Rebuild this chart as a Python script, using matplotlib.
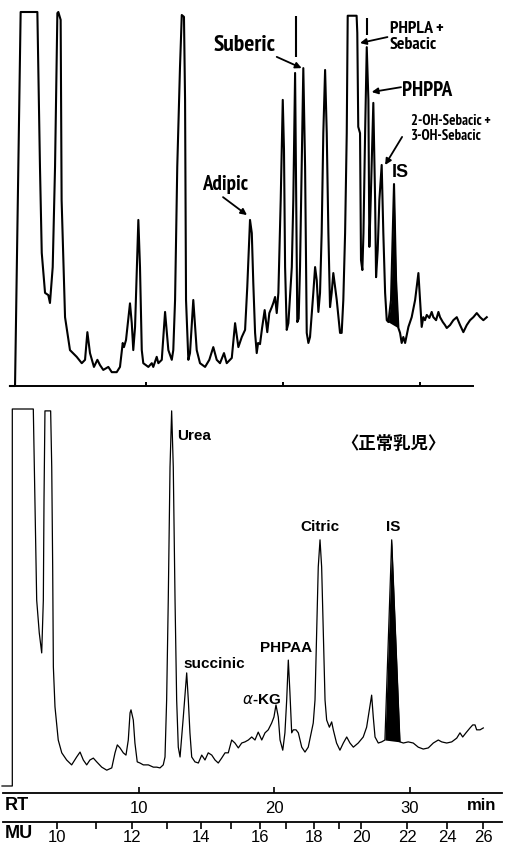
import numpy as np
import matplotlib
matplotlib.use('Agg')
from matplotlib import pyplot as plt
from matplotlib import font_manager

# ---- upper trace (patient urine), retention time [min] vs response [% of full scale]
top_rt = [0.07, 0.44, 0.85, 2.07, 2.26, 2.39, 2.63, 2.87, 2.99, 3.19,
          3.36, 3.53, 3.60, 3.77, 3.84, 4.09, 4.45, 4.94, 5.31, 5.55,
          5.72, 5.91, 6.20, 6.45, 6.64, 6.88, 7.25, 7.50, 7.86, 8.10,
          8.30, 8.39, 8.54, 8.83, 8.96, 9.07, 9.20, 9.32, 9.44, 9.56,
          9.69, 9.80, 10.17, 10.42, 10.53, 10.78, 10.90, 11.15, 11.39, 11.63,
          11.88, 11.99, 12.12, 12.28, 12.48, 12.61, 12.77, 12.85, 12.92, 13.09,
          13.21, 13.45, 13.70, 13.94, 14.31, 14.62, 14.91, 15.16, 15.40, 15.69,
          15.89, 16.26, 16.50, 16.74, 16.99, 17.23, 17.39, 17.59, 17.72, 17.83,
          17.96, 18.08, 18.18, 18.32, 18.47, 18.66, 18.85, 19.00, 19.18, 19.29,
          19.42, 19.54, 19.66, 19.83, 19.98, 20.07, 20.15, 20.27, 20.39, 20.64,
          20.75, 20.88, 21.04, 21.14, 21.24, 21.36, 21.48, 21.61, 21.73, 21.85,
          21.97, 22.21, 22.34, 22.46, 22.58, 22.70, 22.82, 22.94, 23.07, 23.19,
          23.31, 23.43, 23.55, 23.67, 23.80, 23.92, 24.16, 24.28, 24.40, 24.53,
          24.65, 24.72, 25.37, 25.42, 25.49, 25.62, 25.69, 25.79, 25.87, 25.99,
          26.11, 26.23, 26.30, 26.40, 26.59, 26.72, 26.79, 26.91, 27.03, 27.20,
          27.32, 27.45, 27.57, 27.69, 27.88, 28.10, 28.25, 28.42, 28.54, 28.66,
          28.78, 28.91, 29.15, 29.39, 29.64, 29.88, 30.00, 30.12, 30.24, 30.36,
          30.49, 30.68, 30.85, 30.97, 31.17, 31.34, 31.46, 31.66, 31.82, 31.95,
          32.19, 32.43, 32.68, 32.92, 33.16, 33.41, 33.65, 33.89, 34.14, 34.38,
          34.62, 34.87]
top_resp = [0, 0, 100, 100, 58.6, 35.6, 24.9, 24.3, 22.2, 31.8,
            58.6, 99.7, 100, 97.9, 49.7, 18.4, 9.6, 7.8, 6.1, 7.0,
            14.4, 8.8, 5.1, 7.0, 5.6, 4.3, 5.1, 3.7, 3.7, 5.1,
            11.5, 10.4, 12.3, 22.1, 16.8, 9.6, 15.8, 30.2, 44.4, 31.8,
            9.6, 6.1, 5.1, 6.1, 5.1, 7.8, 6.1, 7.0, 19.8, 9.6,
            7.0, 9.6, 23.0, 58.6, 85.3, 99.2, 98.7, 76.5, 23.0, 7.0,
            8.8, 23.0, 9.6, 6.1, 5.1, 7.0, 10.4, 7.0, 6.1, 8.8,
            6.1, 7.5, 16.8, 10.4, 13.1, 15.0, 26.5, 44.4, 40.9, 27.5,
            14.2, 8.8, 11.5, 11.2, 15.5, 20.3, 14.4, 19.5, 21.1, 22.2,
            23.8, 19.5, 24.9, 49.7, 76.5, 63.1, 31.8, 15.0, 16.8, 31.8,
            49.7, 83.7, 17.1, 18.0, 31.8, 58.6, 85.0, 58.6, 14.2, 11.5,
            13.1, 24.9, 31.8, 28.3, 19.8, 24.9, 40.9, 67.6, 84.5, 67.6,
            40.9, 21.1, 24.9, 30.2, 26.5, 23.0, 14.2, 14.2, 23.0, 40.9,
            67.6, 99.0, 99.0, 94.4, 69.3, 67.6, 33.7, 31.0, 40.9, 67.6,
            90.6, 76.5, 37.2, 49.7, 75.7, 49.7, 29.1, 36.4, 49.7, 59.1,
            40.9, 24.9, 17.6, 17.1, 23.0, 54.0, 28.3, 15.5, 14.2, 11.5,
            13.1, 11.5, 15.8, 18.4, 23.0, 30.2, 23.0, 15.8, 18.4, 17.6,
            19.0, 18.2, 19.8, 18.4, 17.6, 19.8, 18.4, 17.1, 16.3, 15.5,
            16.3, 17.6, 18.4, 16.3, 14.4, 16.3, 17.6, 18.4, 19.5, 18.4,
            17.6, 18.4]
top_is_window = (27.69, 28.42)
# pen marks of off-scale peak tops: rt, low, high
top_caps_rt = [20.95, 26.11]
top_caps_lo = [88.0, 93.9]
top_caps_hi = [98.9, 98.4]
top_peak_names = ['Adipic', 'Suberic', 'PHPLA +\nSebacic', 'PHPPA',
                  '2-OH-Sebacic +\n3-OH-Sebacic']

# ---- lower trace (normal infant)
bot_rt = [-0.11, 0.65, 0.65, 2.20, 2.32, 2.45, 2.64, 2.82, 2.94, 2.99,
          3.06, 3.48, 3.56, 3.63, 3.68, 3.80, 4.04, 4.30, 4.66, 5.03,
          5.40, 5.65, 5.89, 6.14, 6.38, 6.63, 6.88, 7.25, 7.62, 7.99,
          8.23, 8.40, 8.60, 8.84, 9.04, 9.21, 9.34, 9.41, 9.58, 9.70,
          9.87, 10.07, 10.32, 10.69, 11.06, 11.31, 11.55, 11.79, 11.92, 12.04,
          12.16, 12.29, 12.41, 12.53, 12.66, 12.78, 12.90, 13.03, 13.27, 13.52,
          13.64, 13.76, 13.89, 14.13, 14.38, 14.63, 14.87, 15.11, 15.37, 15.61,
          15.85, 16.10, 16.35, 16.59, 16.84, 17.08, 17.33, 17.58, 17.82, 18.07,
          18.32, 18.56, 18.80, 19.06, 19.30, 19.54, 19.79, 19.96, 20.11, 20.28,
          20.41, 20.61, 20.77, 20.90, 21.02, 21.14, 21.27, 21.39, 21.59, 21.76,
          22.01, 22.25, 22.49, 22.75, 22.86, 22.99, 23.11, 23.23, 23.36, 23.48,
          23.60, 23.73, 23.85, 24.05, 24.22, 24.34, 24.58, 24.83, 25.08, 25.33,
          25.57, 25.82, 26.18, 26.55, 26.80, 27.00, 27.17, 27.29, 27.42, 27.66,
          27.91, 28.15, 28.65, 29.26, 29.51, 29.87, 30.24, 30.61, 30.98, 31.35,
          31.72, 32.09, 32.34, 32.71, 33.08, 33.45, 33.69, 33.89, 34.13, 34.43,
          34.63, 34.80, 34.92, 35.17, 35.41]
bot_resp = [0, 0, 100, 100, 75.9, 49.3, 40.6, 35.3, 49.3, 75.9,
            99.5, 99.5, 84.6, 58.1, 31.6, 21.0, 12.2, 8.8, 6.9, 5.6,
            7.7, 9.0, 6.9, 5.6, 6.9, 7.4, 6.4, 5.0, 4.2, 4.8,
            8.8, 10.9, 10.1, 8.8, 8.2, 12.2, 19.4, 20.2, 17.5, 11.4,
            6.4, 6.1, 5.6, 5.6, 5.0, 5.0, 4.8, 5.6, 7.7, 22.8,
            49.3, 84.6, 99.5, 84.6, 49.3, 22.8, 10.3, 7.7, 18.3, 30.0,
            22.8, 14.1, 7.7, 6.4, 6.1, 8.2, 6.9, 8.8, 8.2, 6.9,
            6.1, 7.4, 8.8, 8.8, 12.2, 11.4, 10.1, 11.4, 11.7, 12.2,
            13.0, 12.2, 14.3, 12.2, 14.1, 14.9, 16.7, 18.3, 21.5, 18.3,
            12.2, 9.5, 14.1, 22.8, 33.4, 24.7, 14.1, 14.9, 14.9, 14.1,
            10.3, 9.0, 10.3, 14.9, 16.7, 22.8, 40.6, 58.1, 65.3, 58.1,
            40.6, 22.8, 17.5, 15.6, 17.0, 14.9, 11.4, 9.5, 11.4, 13.0,
            11.4, 10.3, 11.4, 13.0, 15.6, 20.2, 24.1, 18.3, 13.0, 11.4,
            11.7, 12.2, 65.3, 11.7, 11.4, 11.7, 11.4, 10.3, 9.8, 10.1,
            11.4, 12.2, 11.7, 11.4, 11.7, 12.7, 14.1, 13.0, 14.1, 15.4,
            16.2, 16.2, 14.9, 14.9, 15.4]
bot_is_window = (28.15, 29.26)
bot_peak_names = ['Urea', 'succinic', r'$\alpha$-KG', 'PHPAA', 'Citric', 'IS']

# ---- scales
rt_ticks = [10, 20, 30]
mu_values = [10, 11, 12, 13, 14, 15, 16, 17, 18, 19, 20, 22, 24, 26]
mu_rt = [3.95, 6.83, 9.48, 12.07, 14.58, 16.79, 18.93, 20.85, 22.92, 24.76,
         26.38, 29.78, 32.73, 35.39]

# ---- fonts: look for a condensed bold face, else fall back to Liberation Sans
SANS = ['Liberation Sans', 'DejaVu Sans']


def find_narrow_bold():
    good = []
    for f in font_manager.fontManager.ttflist:
        fn = f.fname
        if not ('Narrow' in fn or 'Condensed' in fn):
            continue
        if any(k in fn for k in ('Mono', 'Serif', 'Italic', 'Oblique', 'Extra', 'Ultra')):
            continue
        if f.weight not in (700, 'bold'):
            continue
        rank = 0 if 'Narrow' in fn else (2 if 'Semi' in fn else 1)
        good.append((rank, fn))
    if not good:
        return None
    good.sort()
    return font_manager.FontProperties(fname=good[0][1])


narrow_fp = find_narrow_bold()


def label_font(size):
    if narrow_fp is not None:
        fp = narrow_fp.copy()
        fp.set_size(size)
        return fp
    fp = font_manager.FontProperties(family=SANS, weight='bold', size=size * 0.8)
    return fp


W, H = 515, 844
fig = plt.figure(figsize=(W / 100, H / 100), dpi=100)


def px_axes(left, top, width, height):
    ax = fig.add_axes([left / W, 1 - (top + height) / H, width / W, height / H])
    ax.patch.set_visible(False)
    for s in ax.spines.values():
        s.set_visible(False)
    return ax


# Upper chromatogram
ax_top = px_axes(0, 12, 515, 374)
ax_top.set_xlim(-0.657, 36.93)
ax_top.set_ylim(0, 100)
ax_top.plot(top_rt, top_resp, color='black', lw=1.5, solid_joinstyle='round', clip_on=False)
ax_top.vlines(top_caps_rt, top_caps_lo, top_caps_hi, color='black', lw=1.5)
t_rt = np.array(top_rt)
t_resp = np.array(top_resp)
m = (t_rt >= top_is_window[0]) & (t_rt <= top_is_window[1])
base = np.interp(t_rt[m], [t_rt[m][0], t_rt[m][-1]], [t_resp[m][0], t_resp[m][-1]])
ax_top.fill_between(t_rt[m], base, t_resp[m], color='black', lw=0)
ax_top.spines['bottom'].set_visible(True)
ax_top.spines['bottom'].set_linewidth(1.4)
ax_top.spines['bottom'].set_bounds(0.07, 33.87)
ax_top.set_xticks(rt_ticks)
ax_top.set_xticklabels([])
ax_top.set_yticks([])
ax_top.tick_params(axis='x', direction='in', length=3, width=1.4)

# label layout: (x, y, ha, size, linespacing, arrow tail, arrow tip) in rt / response units
top_layout = [
    (15.77, 54.0, 'center', 15.0, 1.0, (15.62, 50.5), (17.37, 45.7)),
    (17.19, 91.0, 'center', 17.0, 1.0, (19.54, 88.0), (21.36, 85.0)),
    (27.81, 93.3, 'left', 12.8, 0.95, (27.62, 93.3), (25.62, 91.7)),
    (28.69, 78.9, 'left', 15.0, 1.0, (28.61, 79.9), (26.47, 78.6)),
    (29.35, 68.9, 'left', 10.6, 1.12, (28.69, 66.6), (27.45, 59.1)),
]
for name, (x, y, ha, size, ls, tail, tip) in zip(top_peak_names, top_layout):
    ax_top.text(x, y, name, ha=ha, va='center', fontproperties=label_font(size),
                linespacing=ls)
    ax_top.annotate('', xy=tip, xytext=tail,
                    arrowprops=dict(arrowstyle='-|>', color='black', lw=1.3,
                                    mutation_scale=9, shrinkA=0, shrinkB=0))
ax_top.text(28.54, 57.0, 'IS', ha='center', va='center', fontsize=13,
            fontweight='bold', family=SANS)

# Lower chromatogram
ax_bot = px_axes(0, 409, 515, 377)
ax_bot.set_xlim(-0.258, 37.75)
ax_bot.set_ylim(0, 100)
ax_bot.set_xticks([])
ax_bot.set_yticks([])
ax_bot.plot(bot_rt, bot_resp, color='black', lw=0.9, solid_joinstyle='round', clip_on=False)
b_rt = np.array(bot_rt)
b_resp = np.array(bot_resp)
m = (b_rt >= bot_is_window[0]) & (b_rt <= bot_is_window[1])
base = np.interp(b_rt[m], [b_rt[m][0], b_rt[m][-1]], [b_resp[m][0], b_resp[m][-1]])
ax_bot.fill_between(b_rt[m], base, b_resp[m], color='black', lw=0)

bot_layout = [(12.80, 92.8, 'left'), (15.54, 32.4, 'center'), (19.04, 22.8, 'center'),
              (20.85, 36.5, 'center'), (23.36, 68.6, 'center'), (28.78, 68.6, 'center')]
for name, (x, y, ha) in zip(bot_peak_names, bot_layout):
    ax_bot.text(x, y, name, ha=ha, va='center', fontsize=11, fontweight='bold', family=SANS)
ax_bot.text(28.78, 90.8, '〈正常乳児〉', ha='center', va='center', fontsize=12.5,
            fontweight='bold', family=['Noto Sans CJK JP', 'DejaVu Sans'])

# RT scale
ax_rt = px_axes(0, 783, 515, 10)
ax_rt.set_xlim(-0.258, 37.75)
ax_rt.set_yticks([])
ax_rt.spines['bottom'].set_visible(True)
ax_rt.spines['bottom'].set_linewidth(1.3)
ax_rt.spines['bottom'].set_bounds(-0.04, 36.79)
ax_rt.set_xticks(rt_ticks)
ax_rt.set_xticklabels([str(v) for v in rt_ticks], family=SANS, fontsize=12)
ax_rt.tick_params(axis='x', direction='in', length=4, width=1.2, pad=6)

# MU scale
ax_mu = px_axes(0, 812, 515, 10)
ax_mu.set_xlim(-0.258, 37.75)
ax_mu.set_yticks([])
ax_mu.spines['bottom'].set_visible(True)
ax_mu.spines['bottom'].set_linewidth(1.3)
ax_mu.spines['bottom'].set_bounds(-0.04, 36.79)
ax_mu.set_xticks(mu_rt)
ax_mu.set_xticklabels([str(v) if v % 2 == 0 else '' for v in mu_values],
                      family=SANS, fontsize=12)
ax_mu.tick_params(axis='x', direction='out', length=5, width=1.2, pad=1)

fig.text(5 / W, 1 - 806 / H, 'RT', ha='left', va='center', fontsize=13,
         fontweight='bold', family=SANS)
fig.text(5 / W, 1 - 834 / H, 'MU', ha='left', va='center', fontsize=13,
         fontweight='bold', family=SANS)
fig.text(482 / W, 1 - 806 / H, 'min', ha='center', va='center', fontsize=12,
         fontweight='bold', family=SANS)

fig.savefig('out.png', dpi=100, facecolor='white')
